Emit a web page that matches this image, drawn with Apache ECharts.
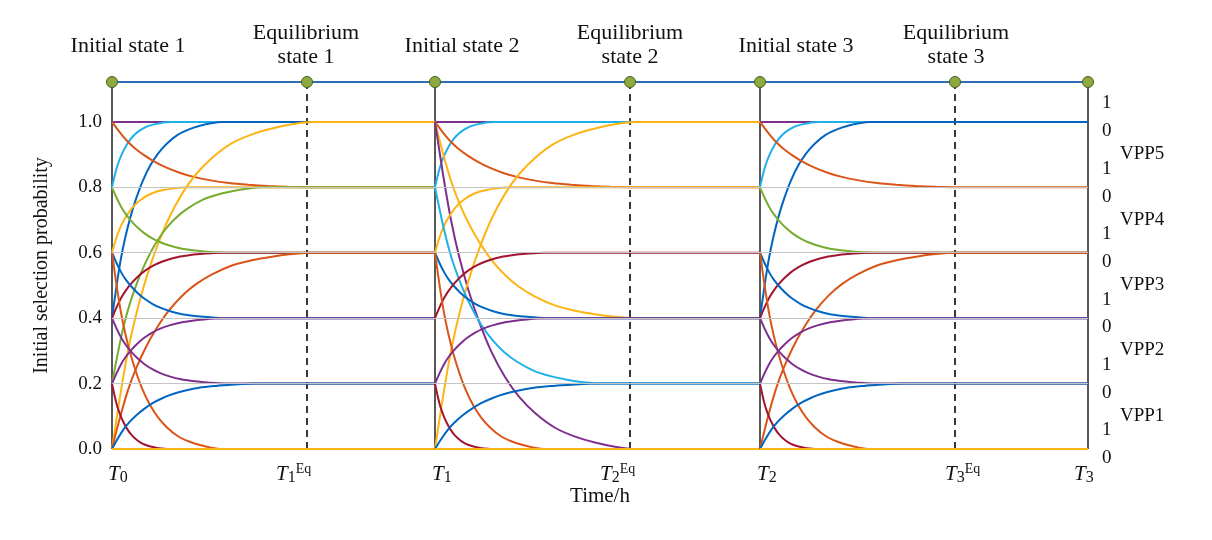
<!DOCTYPE html>
<html><head><meta charset="utf-8">
<script src="https://cdn.jsdelivr.net/npm/echarts@6/dist/echarts.min.js"></script>
<style>html,body{margin:0;padding:0;background:#fff}#c{width:1212px;height:540px}</style>
</head><body><div id="c"></div>
<script>
// time positions (arbitrary hour units)
const segStarts = [0, 323, 648];
const segEnds = [323, 648, 976];
const eqTimes = [195, 518, 843];
const yTicks = [0, 0.2, 0.4, 0.6, 0.8, 1.0];
// progress profile (fraction of settle time -> fraction of change)
const shapeX = [0, 0.04, 0.08, 0.12, 0.17, 0.22, 0.28, 0.35, 0.42, 0.5, 0.6, 0.7, 0.8, 0.9, 1];
const shapeP = [0, 0.16, 0.3, 0.41, 0.52, 0.61, 0.7, 0.78, 0.84, 0.89, 0.935, 0.962, 0.98, 0.993, 1];
const C = {pu:'#7E2F8E', cy:'#1EB0E8', bl:'#0066C0', ve:'#DA5418', ye:'#FDB515', gr:'#77AC30', dr:'#A2142F'};
// [colour, start value, equilibrium value, settle time]
const seg1 = [
 ['pu',1,1,1],['cy',0.8,1,60],['bl',0.4,1,110],['ve',1,0.8,195],['ye',0,1,200],['ye',0.6,0.8,75],
 ['gr',0.8,0.6,115],['gr',0.2,0.8,150],['dr',0.4,0.6,110],['ve',0,0.6,200],['bl',0.6,0.4,115],
 ['ve',0.6,0,110],['pu',0.4,0.2,115],['pu',0.2,0.4,115],['dr',0.2,0,55],['bl',0,0.2,145],['ye',0,0,1]];
const seg2 = [
 ['pu',1,1,1],['cy',0.8,1,60],['ve',1,0.8,195],['ye',1,0.4,200],['pu',1,0,200],['ye',0.6,0.8,75],
 ['ye',0,1,200],['cy',0.8,0.2,165],['bl',0.6,0.4,115],['dr',0.4,0.6,110],['ve',0.6,0,110],
 ['pu',0.2,0.4,115],['dr',0.2,0,55],['bl',0,0.2,165],['ye',0,0,1]];
const seg3 = [
 ['pu',1,1,1],['cy',0.8,1,60],['bl',0.4,1,110],['ve',1,0.8,195],['gr',0.8,0.6,115],['dr',0.4,0.6,110],
 ['ve',0,0.6,195],['bl',0.6,0.4,115],['ve',0.6,0,110],['pu',0.4,0.2,115],['pu',0.2,0.4,115],
 ['dr',0.2,0,55],['bl',0,0.2,145],['ye',0,0,1]];
const segs = [seg1, seg2, seg3];
const rightLabels = ['VPP5','VPP4','VPP3','VPP2','VPP1'];

const TOP = 1.122;
const series = [];
series.push({type:'line', data:[], silent:true,
  markLine:{symbol:'none', silent:true, label:{show:false}, lineStyle:{color:'#c4c4c4', type:'solid', width:1.2},
    data:[0.2,0.4,0.6,0.8].map(v=>({yAxis:v}))}});
segs.forEach((seg,i)=>{
  const s0 = segStarts[i], e = segEnds[i];
  seg.forEach(([c,y0,y1,d])=>{
    const pts = shapeX.map((f,k)=>[s0+f*d, y0+(y1-y0)*shapeP[k]]);
    pts.push([e, y1]);
    series.push({type:'line', data:pts, smooth:0.2, symbol:'none', z:3,
      lineStyle:{color:C[c], width:2}});
  });
});
[0, ...segEnds].forEach(t=>series.push({type:'line', data:[[t,0],[t,TOP]], symbol:'none', z:2, lineStyle:{color:'#222', width:1.5}}));
eqTimes.forEach(t=>series.push({type:'line', data:[[t,0],[t,TOP]], symbol:'none', z:2, lineStyle:{color:'#222', width:1.8, type:[7,5]}}));
const marks = [0, eqTimes[0], segEnds[0], eqTimes[1], segEnds[1], eqTimes[2], segEnds[2]];
series.push({type:'line', data:marks.map(t=>[t,TOP]), symbol:'circle', symbolSize:11, z:6,
  itemStyle:{color:'#8DAA3E', borderColor:'#4a5a1c', borderWidth:1}, lineStyle:{color:'#2E6DB4', width:2}});

const F = 'Liberation Serif';
const graphic = [];
const topL = [['Initial state 1',128],['Equilibrium\nstate 1',306],['Initial state 2',462],['Equilibrium\nstate 2',630],['Initial state 3',796],['Equilibrium\nstate 3',956]];
topL.forEach(([t,x])=>graphic.push({type:'text', x:x, y:t.includes('\n')?21:34, style:{text:t, font:'22px "'+F+'"', fill:'#111', align:'center', lineHeight:24}}));
const yPix = v=>449-v*327;
const FS = '19px "'+F+'"';
rightLabels.forEach((t,i)=>{
  const hi = 1-i*0.2;
  graphic.push({type:'text', x:1102, y:yPix(hi+0.055)-10, style:{text:'1', font:FS, fill:'#111'}});
  graphic.push({type:'text', x:1102, y:yPix(hi-0.03)-10, style:{text:'0', font:FS, fill:'#111'}});
  graphic.push({type:'text', x:1120, y:yPix(hi-0.1)-10, style:{text:t, font:FS, fill:'#111'}});
});
graphic.push({type:'text', x:1102, y:yPix(0.055)-10, style:{text:'1', font:FS, fill:'#111'}});
graphic.push({type:'text', x:1102, y:yPix(-0.03)-10, style:{text:'0', font:FS, fill:'#111'}});
const xl = [['0',108,''],['1',276,'Eq'],['1',432,''],['2',600,'Eq'],['2',757,''],['3',945,'Eq'],['3',1074,'']];
xl.forEach(([s,x,sup])=>graphic.push({type:'text', x:x, y:462, style:{
  text:'{t|T}{s|'+s+'}'+(sup?'{u|'+sup+'}':''),
  rich:{t:{font:'italic 21px "'+F+'"', fill:'#111'}, s:{font:'16px "'+F+'"', fill:'#111', padding:[8,0,0,0]}, u:{font:'14px "'+F+'"', fill:'#111', padding:[0,0,10,0]}}}}));
graphic.push({type:'text', x:600, y:486, style:{text:'Time/h', font:'21px "'+F+'"', fill:'#111', align:'center'}});

const chart = echarts.init(document.getElementById('c'));
chart.setOption({
  animation:false,
  grid:{left:112, right:124, top:82, bottom:91},
  xAxis:{type:'value', min:0, max:976, show:false},
  yAxis:{type:'value', min:0, max:TOP, interval:0.2,
    axisLine:{show:false}, axisTick:{show:false}, splitLine:{show:false},
    axisLabel:{fontFamily:F, fontSize:19, color:'#111', margin:10, formatter:v=>yTicks.some(t=>Math.abs(t-v)<1e-6)?v.toFixed(1):''},
    name:'Initial selection probability', nameLocation:'middle', nameGap:60, nameRotate:90,
    nameTextStyle:{fontFamily:F, fontSize:20, color:'#111'}},
  graphic:graphic,
  series:series
});
</script></body></html>
